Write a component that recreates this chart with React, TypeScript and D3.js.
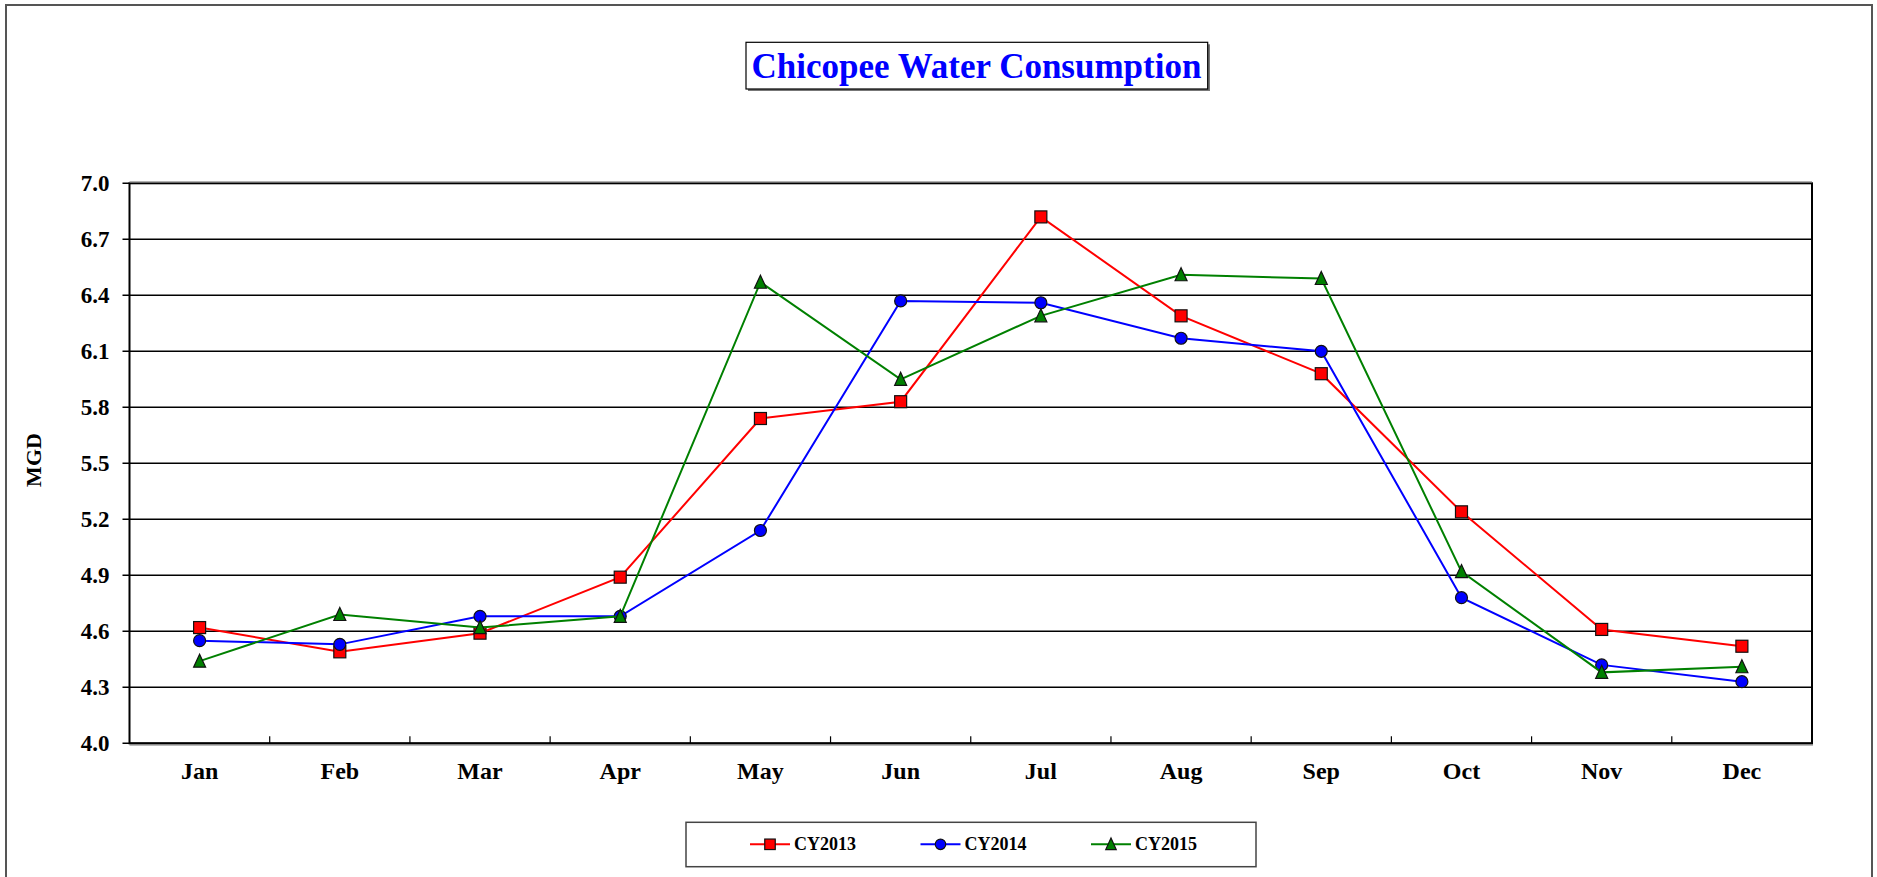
import React from "react";
import * as d3 from "d3";

const months = ["Jan", "Feb", "Mar", "Apr", "May", "Jun", "Jul", "Aug", "Sep", "Oct", "Nov", "Dec"];
const cy2013 = [4.62, 4.49, 4.59, 4.89, 5.74, 5.83, 6.82, 6.29, 5.98, 5.24, 4.61, 4.52];
const cy2014 = [4.55, 4.53, 4.68, 4.68, 5.14, 6.37, 6.36, 6.17, 6.10, 4.78, 4.42, 4.33];
const cy2015 = [4.44, 4.69, 4.62, 4.68, 6.47, 5.95, 6.29, 6.51, 6.49, 4.92, 4.38, 4.41];
const yTicks = [4.0, 4.3, 4.6, 4.9, 5.2, 5.5, 5.8, 6.1, 6.4, 6.7, 7.0];
const seriesNames = ["CY2013", "CY2014", "CY2015"];
const seriesColors = ["#FF0000", "#0000FF", "#008000"];
const seriesShapes = ["square", "circle", "triangle"];

const W = 1877;
const H = 877;
const plot = { left: 129.5, right: 1812, top: 183.3, bottom: 743.3 };
const FONT = "'Liberation Serif', 'Times New Roman', serif";

function Marker({ shape, x, y, color, size }: { shape: string; x: number; y: number; color: string; size: number }) {
  if (shape === "square") {
    return <rect x={x - size / 2} y={y - size / 2} width={size} height={size} fill={color} stroke="#111" strokeWidth={1.2} />;
  }
  if (shape === "circle") {
    return <circle cx={x} cy={y} r={size / 2} fill={color} stroke="#111" strokeWidth={1.2} />;
  }
  const h = size;
  const w = size;
  const p = `M${x},${y - h / 2 - 1} L${x + w / 2},${y + h / 2} L${x - w / 2},${y + h / 2} Z`;
  return <path d={p} fill={color} stroke="#111" strokeWidth={1.2} />;
}

export default function App() {
  const x = d3.scaleBand<string>().domain(months).range([plot.left, plot.right]).paddingInner(0).paddingOuter(0);
  const y = d3.scaleLinear().domain([4, 7]).range([plot.bottom, plot.top]);
  const cx = (m: string) => (x(m) as number) + x.bandwidth() / 2;
  const line = d3
    .line<number>()
    .x((_, i) => cx(months[i]))
    .y((v) => y(v));
  const data = [cy2013, cy2014, cy2015];

  const legendY = 844.3;
  const legendStart = 750;
  const legendStep = 170.5;

  return (
    <svg width={W} height={H} style={{ position: "absolute", left: 0, top: 0, background: "#fff" }} fontFamily={FONT}>
      <rect x={0} y={0} width={W} height={H} fill="#fff" />
      {/* outer chart border */}
      <rect x={6} y={5} width={1866} height={920} fill="none" stroke="#555" strokeWidth={2} />

      {/* title */}
      <rect x={748} y={44.3} width={462} height={46.7} fill="#777" />
      <rect x={746} y={42.3} width={461.7} height={46.7} fill="#fff" stroke="#000" strokeWidth={1.2} />
      <text x={976.5} y={78.3} textAnchor="middle" fontSize={35} fontWeight="bold" fill="#0000FF">
        Chicopee Water Consumption
      </text>

      {/* gridlines */}
      {yTicks.map((t) => (
        <line key={`g${t}`} x1={plot.left - 7} x2={plot.right} y1={y(t)} y2={y(t)} stroke="#000" strokeWidth={1.5} />
      ))}
      {/* plot border */}
      <rect x={plot.left} y={plot.top} width={plot.right - plot.left} height={plot.bottom - plot.top} fill="none" stroke="#000" strokeWidth={2} />
      <line x1={plot.left} x2={plot.right} y1={plot.top - 1} y2={plot.top - 1} stroke="#666" strokeWidth={1.5} />
      <line x1={plot.left} x2={plot.right + 1} y1={plot.bottom + 1.5} y2={plot.bottom + 1.5} stroke="#777" strokeWidth={1.2} />

      {/* y tick labels */}
      {yTicks.map((t) => (
        <text key={`yl${t}`} x={109.5} y={y(t)} dy="0.34em" textAnchor="end" fontSize={23} fontWeight="bold" fill="#000">
          {t.toFixed(1)}
        </text>
      ))}
      <text
        transform={`translate(34,460) rotate(-90)`}
        textAnchor="middle"
        dy="0.34em"
        fontSize={22}
        fontWeight="bold"
        fill="#000"
      >
        MGD
      </text>

      {/* x ticks (inward, at category boundaries) */}
      {months.slice(1).map((m) => (
        <line key={`xt${m}`} x1={x(m) as number} x2={x(m) as number} y1={plot.bottom} y2={plot.bottom - 7} stroke="#000" strokeWidth={1.2} />
      ))}
      {months.map((m) => (
        <text key={`xl${m}`} x={cx(m)} y={779.3} textAnchor="middle" fontSize={24} fontWeight="bold" fill="#000">
          {m}
        </text>
      ))}

      {/* series */}
      {data.map((vals, si) => (
        <g key={`s${si}`}>
          <path d={line(vals) as string} fill="none" stroke={seriesColors[si]} strokeWidth={2} />
          {vals.map((v, i) => (
            <Marker key={i} shape={seriesShapes[si]} x={cx(months[i])} y={y(v)} color={seriesColors[si]} size={12} />
          ))}
        </g>
      ))}

      {/* legend */}
      <rect x={686} y={822.3} width={570} height={44.4} fill="#fff" stroke="#444" strokeWidth={1.5} />
      {seriesNames.map((name, si) => {
        const lx = legendStart + si * legendStep;
        return (
          <g key={`lg${name}`}>
            <line x1={lx} x2={lx + 40} y1={legendY} y2={legendY} stroke={seriesColors[si]} strokeWidth={2} />
            <Marker shape={seriesShapes[si]} x={lx + 20} y={legendY} color={seriesColors[si]} size={10.5} />
            <text x={lx + 44} y={850} fontSize={18} fontWeight="bold" fill="#000">
              {name}
            </text>
          </g>
        );
      })}
    </svg>
  );
}
